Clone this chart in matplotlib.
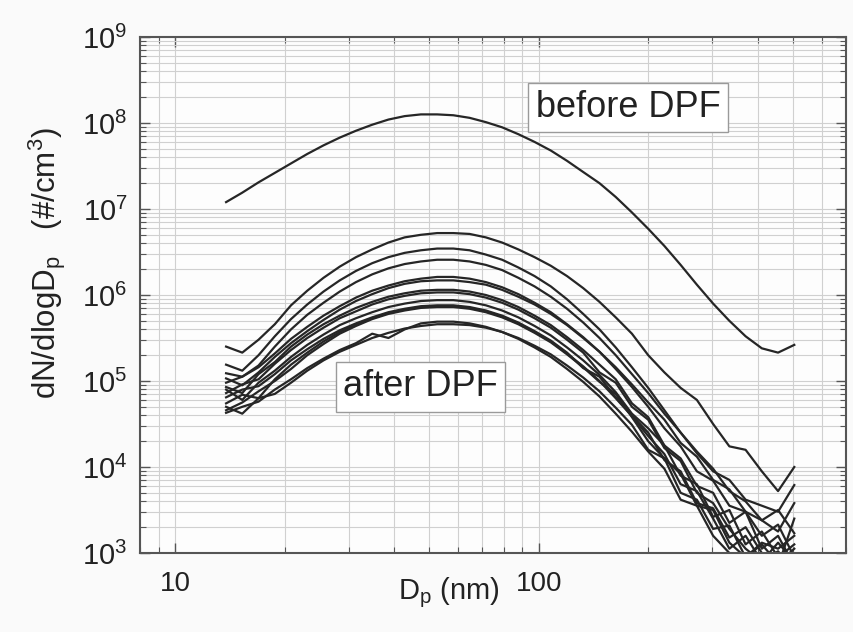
import numpy as np
import matplotlib
matplotlib.use('Agg')
import matplotlib.pyplot as plt
from matplotlib.ticker import LogLocator, FixedLocator, FuncFormatter, NullFormatter

plt.rcParams['font.family'] = ['Liberation Sans', 'DejaVu Sans']
plt.rcParams['mathtext.fontset'] = 'custom'
plt.rcParams['mathtext.rm'] = 'Liberation Sans'
plt.rcParams['mathtext.it'] = 'Liberation Sans:italic'

# particle diameter grid (nm)
diameter_nm = [13.8, 15.29, 16.95, 18.79, 20.82, 23.08, 25.58, 28.35, 31.42, 34.82,
               38.59, 42.77, 47.40, 52.54, 58.23, 64.53, 71.52, 79.27, 87.85, 97.37,
               107.9, 119.6, 132.5, 146.9, 162.8, 180.4, 200.0, 221.6, 245.6, 272.2,
               301.7, 334.4, 370.6, 410.7, 455.2, 504.5]

# log10(dN/dlogDp) before DPF
log_before = [7.08, 7.19, 7.31, 7.42, 7.53, 7.64, 7.74, 7.83, 7.91, 7.98,
              8.04, 8.08, 8.10, 8.10, 8.09, 8.06, 8.01, 7.95, 7.87, 7.78,
              7.68, 7.56, 7.43, 7.30, 7.14, 6.96, 6.77, 6.57, 6.35, 6.12,
              5.90, 5.70, 5.52, 5.38, 5.33, 5.42]

# log10(dN/dlogDp) after DPF (individual measurements)
log_after_01 = [5.40, 5.33, 5.48, 5.66, 5.88, 6.05, 6.20, 6.33, 6.44, 6.53, 6.61, 6.67, 6.70, 6.72,
                6.72, 6.71, 6.67, 6.61, 6.53, 6.44, 6.34, 6.22, 6.08, 5.92, 5.74, 5.55, 5.30, 5.10,
                4.92, 4.78, 4.50, 4.24, 4.20, 3.95, 3.72, 4.00]
log_after_02 = [5.19, 5.12, 5.30, 5.52, 5.72, 5.89, 6.04, 6.17, 6.28, 6.37, 6.44, 6.49, 6.52, 6.54,
                6.54, 6.52, 6.47, 6.41, 6.32, 6.22, 6.10, 5.95, 5.78, 5.60, 5.39, 5.16, 4.92, 4.66,
                4.40, 4.16, 3.95, 3.85, 3.62, 3.55, 3.48, 3.79]
log_after_03 = [5.09, 5.05, 5.18, 5.40, 5.60, 5.77, 5.91, 6.04, 6.15, 6.24, 6.31, 6.36, 6.39, 6.41,
                6.41, 6.39, 6.35, 6.29, 6.20, 6.10, 5.98, 5.84, 5.68, 5.50, 5.30, 5.08, 4.86, 4.62,
                4.40, 4.18, 3.98, 3.72, 3.60, 3.38, 3.25, 3.58]
log_after_04 = [4.98, 5.05, 5.16, 5.32, 5.49, 5.63, 5.76, 5.87, 5.97, 6.05, 6.11, 6.16, 6.19, 6.21,
                6.21, 6.19, 6.15, 6.09, 6.01, 5.91, 5.80, 5.66, 5.51, 5.34, 5.14, 4.93, 4.70, 4.45,
                4.24, 3.95, 3.84, 3.55, 3.48, 3.20, 3.33, 2.95]
log_after_05 = [5.03, 4.95, 5.10, 5.28, 5.44, 5.58, 5.71, 5.83, 5.93, 6.01, 6.08, 6.13, 6.16, 6.17,
                6.17, 6.15, 6.12, 6.06, 5.98, 5.89, 5.78, 5.65, 5.50, 5.34, 5.16, 4.96, 4.75, 4.55,
                4.28, 4.12, 3.85, 3.74, 3.48, 3.38, 3.50, 3.23]
log_after_06 = [4.93, 4.86, 5.08, 5.22, 5.40, 5.54, 5.66, 5.76, 5.85, 5.92, 5.98, 6.02, 6.05, 6.06,
                6.06, 6.04, 6.00, 5.94, 5.86, 5.76, 5.65, 5.51, 5.36, 5.19, 5.02, 4.74, 4.58, 4.25,
                4.10, 3.78, 3.70, 3.35, 3.48, 3.05, 3.20, 2.85]
log_after_07 = [4.86, 4.96, 5.02, 5.20, 5.36, 5.50, 5.62, 5.73, 5.81, 5.89, 5.95, 5.99, 6.02, 6.03,
                6.03, 6.01, 5.97, 5.91, 5.83, 5.73, 5.62, 5.48, 5.33, 5.10, 4.98, 4.70, 4.55, 4.22,
                4.07, 3.70, 3.58, 3.28, 3.05, 2.90, 3.12, 2.90]
log_after_08 = [4.90, 4.78, 4.98, 5.12, 5.28, 5.42, 5.54, 5.65, 5.73, 5.80, 5.86, 5.90, 5.93, 5.94,
                5.94, 5.92, 5.88, 5.82, 5.74, 5.64, 5.53, 5.39, 5.24, 5.07, 4.87, 4.62, 4.45, 4.25,
                3.90, 3.80, 3.42, 3.50, 3.10, 3.25, 2.95, 3.10]
log_after_09 = [4.81, 4.90, 4.94, 5.08, 5.24, 5.37, 5.49, 5.59, 5.67, 5.74, 5.80, 5.84, 5.87, 5.88,
                5.88, 5.86, 5.82, 5.76, 5.68, 5.58, 5.47, 5.33, 5.15, 5.05, 4.81, 4.60, 4.40, 4.08,
                3.95, 3.58, 3.52, 3.18, 3.30, 3.00, 2.85, 3.40]
log_after_10 = [4.74, 4.84, 4.80, 5.02, 5.19, 5.33, 5.46, 5.57, 5.66, 5.73, 5.79, 5.83, 5.86, 5.87,
                5.87, 5.85, 5.81, 5.75, 5.67, 5.57, 5.46, 5.32, 5.17, 5.00, 4.80, 4.59, 4.36, 4.15,
                3.80, 3.72, 3.40, 3.05, 3.20, 2.90, 3.02, 2.80]
log_after_11 = [4.66, 4.75, 4.88, 5.00, 5.14, 5.30, 5.43, 5.55, 5.64, 5.72, 5.78, 5.82, 5.85, 5.86,
                5.86, 5.84, 5.80, 5.74, 5.66, 5.56, 5.45, 5.31, 5.16, 4.99, 4.85, 4.58, 4.30, 4.10,
                3.92, 3.55, 3.50, 3.12, 2.95, 3.12, 3.05, 3.20]
log_after_12 = [4.63, 4.70, 4.76, 4.90, 5.02, 5.15, 5.26, 5.36, 5.44, 5.55, 5.50, 5.60, 5.67, 5.69,
                5.69, 5.67, 5.63, 5.57, 5.49, 5.39, 5.28, 5.14, 4.99, 4.82, 4.62, 4.41, 4.18, 3.98,
                3.62, 3.55, 3.20, 3.00, 2.85, 2.95, 2.70, 2.60]
log_after_13 = [4.70, 4.62, 4.80, 4.85, 4.98, 5.12, 5.24, 5.34, 5.42, 5.50, 5.56, 5.61, 5.64, 5.66,
                5.66, 5.65, 5.62, 5.57, 5.50, 5.41, 5.31, 5.18, 5.04, 4.88, 4.69, 4.49, 4.20, 4.10,
                3.70, 3.62, 3.28, 3.32, 2.95, 3.10, 2.88, 3.05]

after_series = [log_after_01, log_after_02, log_after_03, log_after_04, log_after_05,
                log_after_06, log_after_07, log_after_08, log_after_09, log_after_10,
                log_after_11, log_after_12, log_after_13]

x_major_ticks = [10, 100]
y_decades = [3, 4, 5, 6, 7, 8, 9]

W, H = 854, 632
fig = plt.figure(figsize=(W / 100, H / 100), dpi=100, facecolor='#fafafa')
ax = fig.add_axes([140 / W, 1 - 553 / H, 706 / W, 516 / H])
ax.set_facecolor('#fdfdfd')

D = np.array(diameter_nm)
line_color = '#262626'
for s in after_series:
    ax.plot(D, 10 ** np.array(s), color=line_color, lw=1.6, zorder=2)
ax.plot(D, 10 ** np.array(log_before), color=line_color, lw=1.6, zorder=2)

ax.set_xscale('log')
ax.set_yscale('log')
ax.set_xlim(8, 700)
ax.set_ylim(10 ** y_decades[0], 10 ** y_decades[-1])

ax.xaxis.set_major_locator(FixedLocator(x_major_ticks))
ax.xaxis.set_major_formatter(FuncFormatter(lambda v, p: f'{v:g}'))
ax.xaxis.set_minor_locator(LogLocator(base=10, subs=np.arange(2, 10), numticks=30))
ax.xaxis.set_minor_formatter(NullFormatter())
ax.yaxis.set_major_locator(FixedLocator([10.0 ** d for d in y_decades]))
ax.yaxis.set_major_formatter(FuncFormatter(lambda v, p: r'$\mathregular{10^{%d}}$' % round(np.log10(v))))
ax.yaxis.set_minor_locator(LogLocator(base=10, subs=np.arange(2, 10), numticks=30))
ax.yaxis.set_minor_formatter(NullFormatter())

ax.grid(True, which='both', color='#d0d0d0', lw=0.8)
ax.set_axisbelow(True)
ax.tick_params(which='both', direction='in', top=True, right=True, color='#555555')
ax.tick_params(which='major', length=7, width=1.0)
ax.tick_params(which='minor', length=4, width=0.8)
ax.tick_params(axis='y', labelsize=21, pad=9, labelcolor='#222222')
ax.tick_params(axis='x', labelsize=20, pad=13, labelcolor='#222222')
for sp in ax.spines.values():
    sp.set_color('#555555')
    sp.set_linewidth(1.5)

fig.text(449 / W, 1 - 593 / H, r'D$_\mathregular{p}$ (nm)', fontsize=21,
         ha='center', va='center', color='#222222')
fig.text(47 / W, 1 - 263 / H, r'dN/dlogD$_\mathregular{p}$   (#/cm$^\mathregular{3}$)', fontsize=22.5,
         ha='center', va='center', rotation=90, color='#222222')

box = dict(boxstyle='square,pad=0.2', fc='white', ec='#9a9a9a', lw=1.0)
ax.text(628 / W, 1 - 107.5 / H, 'before DPF', transform=fig.transFigure, fontsize=26,
        ha='center', va='center', color='#222222', bbox=box, zorder=5)
ax.text(420.5 / W, 1 - 387 / H, 'after DPF', transform=fig.transFigure, fontsize=26,
        ha='center', va='center', color='#222222', bbox=box, zorder=5)

fig.savefig('out.png', dpi=100, facecolor=fig.get_facecolor())
